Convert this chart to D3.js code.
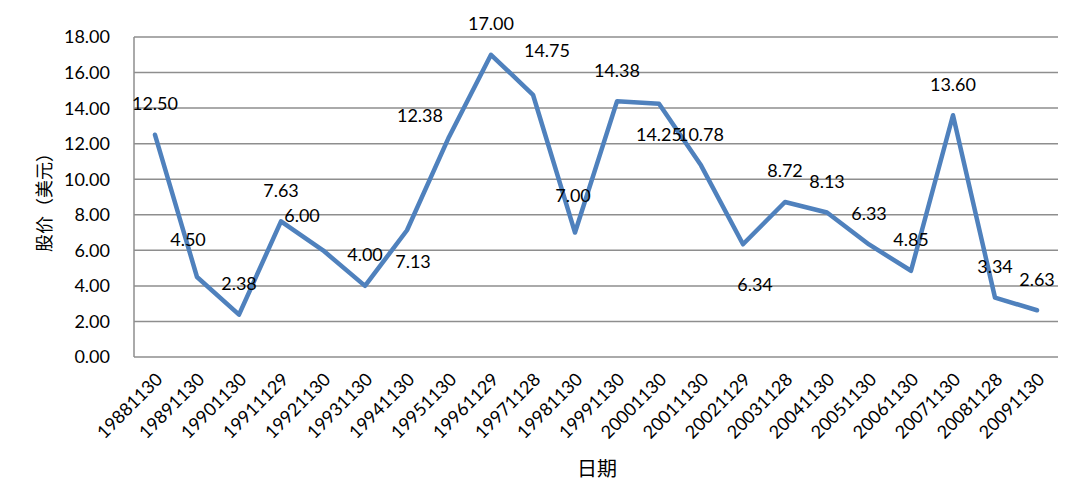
<!DOCTYPE html>
<html><head><meta charset="utf-8">
<script src="https://cdn.jsdelivr.net/npm/d3@7/dist/d3.min.js"></script>
<style>body{margin:0;background:#fff}svg{display:block}</style>
</head><body><svg id="c" width="1080" height="487"></svg>
<script>
const categories = ["19881130","19891130","19901130","19911129","19921130","19931130","19941130","19951130","19961129","19971128","19981130","19991130","20001130","20011130","20021129","20031128","20041130","20051130","20061130","20071130","20081128","20091130"];
const prices = [12.50,4.50,2.38,7.63,6.00,4.00,7.13,12.38,17.00,14.75,7.00,14.38,14.25,10.78,6.34,8.72,8.13,6.33,4.85,13.60,3.34,2.63];
const yTicks = [0,2,4,6,8,10,12,14,16,18];
const yTitle = "股价（美元）";
const xTitle = "日期";
// label offsets relative to default (above point)
const labelOffsets = [[0,0],[-9,-6],[0,0],[0,0],[-21,-4],[0,0],[6,62],[-29,10],[0,0],[14,-13],[-2,-6],[0,0],[0,62],[0,0],[12,71],[0,0],[0,0],[0,0],[0,0],[0,0],[0,0],[0,0]];

const svg = d3.select("#c");
const m = {l:134, r:1058, t:37, b:357};
const x = d3.scaleBand().domain(categories).range([m.l, m.r]);
const y = d3.scaleLinear().domain([0,18]).range([m.b, m.t]);
const numFont = "Lato, 'Open Sans', sans-serif";
const cjkFont = "'Noto Sans CJK SC', sans-serif";

// gridlines
svg.append("g").selectAll("line").data(yTicks).join("line")
  .attr("x1", m.l).attr("x2", m.r)
  .attr("y1", d=>y(d)).attr("y2", d=>y(d))
  .attr("stroke", "#8e8e8e").attr("stroke-width", 1.5);
// left axis line
svg.append("line").attr("x1", m.l).attr("x2", m.l).attr("y1", m.t).attr("y2", m.b)
  .attr("stroke", "#8e8e8e").attr("stroke-width", 1.5);

// y tick labels
svg.append("g").selectAll("text").data(yTicks).join("text")
  .attr("x", 110).attr("y", d=>y(d)).attr("dy", "0.36em")
  .attr("text-anchor", "end").attr("font-family", numFont).attr("font-size", 18).attr("fill", "#000")
  .text(d=>d3.format(".2f")(d));

// x tick labels
svg.append("g").selectAll("text").data(categories).join("text")
  .attr("transform", d=>`translate(${x(d)+x.bandwidth()/2+4},${376}) rotate(-45)`)
  .attr("text-anchor", "end").attr("dy", "0.36em")
  .attr("font-family", numFont).attr("font-size", 18).attr("fill", "#000")
  .text(d=>d);

// line
const cx = (d,i)=>x(categories[i])+x.bandwidth()/2;
svg.append("path").datum(prices)
  .attr("d", d3.line().x((d,i)=>cx(d,i)).y(d=>y(d)))
  .attr("fill", "none").attr("stroke", "#4F81BD").attr("stroke-width", 4.5)
  .attr("stroke-linejoin", "round").attr("stroke-linecap", "round");

// data labels
svg.append("g").selectAll("text").data(prices).join("text")
  .attr("x", (d,i)=>cx(d,i)+labelOffsets[i][0])
  .attr("y", (d,i)=>y(d)-31+labelOffsets[i][1]).attr("dy", "0.36em")
  .attr("text-anchor", "middle").attr("font-family", numFont).attr("font-size", 18).attr("fill", "#000")
  .text(d=>d3.format(".2f")(d));

// axis titles (y title laid out per character on a full-width grid)
const chars = Array.from(yTitle);
const cs = 18;
const yt = svg.append("g").attr("transform", "translate(45,198) rotate(-90)")
  .append("text").attr("dy", "0.36em")
  .attr("font-family", cjkFont).attr("font-size", 18).attr("fill", "#000");
yt.selectAll("tspan").data(chars).join("tspan")
  .attr("x", (d,i)=>(i - (chars.length-1)/2)*cs).attr("text-anchor", "middle")
  .text(d=>d);
svg.append("text").attr("x", 597).attr("y", 469).attr("dy", "0.36em")
  .attr("text-anchor", "middle")
  .attr("font-family", cjkFont).attr("font-size", 20).attr("fill", "#000")
  .text(xTitle);
</script></body></html>
